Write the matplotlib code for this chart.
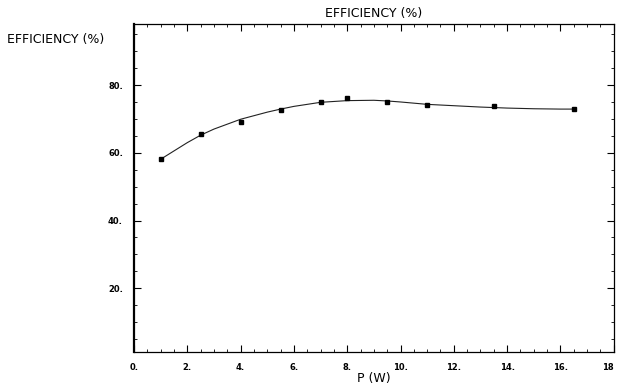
import numpy as np
import matplotlib.pyplot as plt
from matplotlib.ticker import MultipleLocator

# Measured points
power = [1.0, 2.5, 4.0, 5.5, 7.0, 8.0, 9.5, 11.0, 13.5, 16.5]
efficiency = [58.1, 65.5, 69.2, 72.5, 75.0, 76.2, 75.0, 74.2, 73.8, 72.9]

# Smooth fitted curve
curve_p = [1.0, 2.0, 2.5, 3.0, 4.0, 5.0, 5.5, 6.0, 7.0, 8.0, 9.0, 9.5,
           10.0, 11.0, 12.0, 13.0, 14.0, 15.0, 16.0, 16.5]
curve_e = [58.1, 63.0, 65.2, 67.0, 69.9, 72.0, 72.9, 73.7, 74.9, 75.4, 75.5, 75.3,
           75.0, 74.3, 73.9, 73.5, 73.2, 73.0, 72.9, 72.9]

x_ticks = [0, 2, 4, 6, 8, 10, 12, 14, 16, 18]
y_ticks = [20, 40, 60, 80]

fig = plt.figure(figsize=(6.17, 3.88), dpi=100)
ax = fig.add_axes([0.2172, 0.0928, 0.7775, 0.8452])

ax.plot(curve_p, curve_e, color='#222222', lw=0.8)
ax.plot(power, efficiency, 's', color='black', ms=3)

ax.set_xlim(0, 18)
ax.set_ylim(1.2, 98)
ax.set_xticks(x_ticks)
ax.set_xticklabels([f"{t}." for t in x_ticks[:-1]] + ["18"])
ax.set_yticks(y_ticks)
ax.set_yticklabels([f"{t}." for t in y_ticks])
ax.xaxis.set_minor_locator(MultipleLocator(0.5))
ax.yaxis.set_minor_locator(MultipleLocator(5))

ax.tick_params(which='both', direction='in', top=True, right=True,
               labelsize=6, pad=8)
ax.tick_params(which='major', length=5, width=0.8)
ax.tick_params(which='minor', length=2.5, width=0.6)
for lab in ax.get_xticklabels() + ax.get_yticklabels():
    lab.set_fontweight('bold')
ax.get_xticklabels()[-1].set_ha('right')

for side in ['top', 'right', 'bottom']:
    ax.spines[side].set_linewidth(0.9)
ax.spines['left'].set_linewidth(1.6)

ax.set_title("EFFICIENCY (%)", fontsize=9, pad=5)
ax.set_xlabel("P (W)", fontsize=9, labelpad=0)
fig.text(0.012, 0.897, "EFFICIENCY (%)", fontsize=9, va='center', ha='left')

fig.savefig("out.png", dpi=100)
